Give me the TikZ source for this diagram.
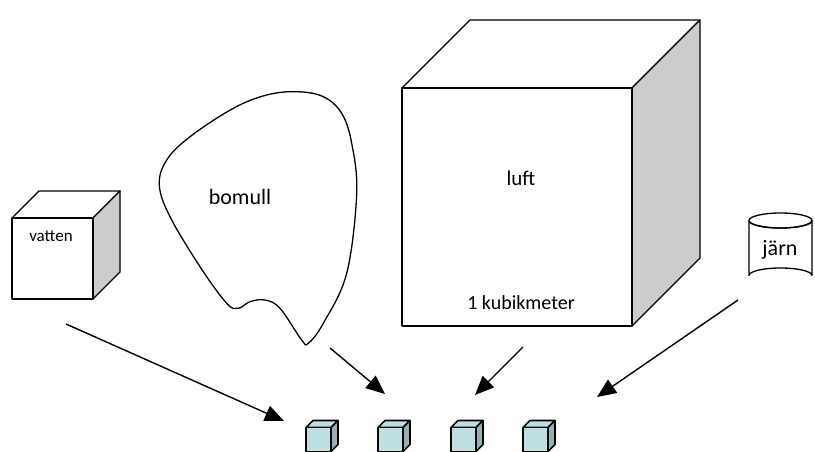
\documentclass[tikz,border=0pt]{standalone}
\usepackage{fontspec}
\setmainfont{Carlito}
\usetikzlibrary{arrows.meta}
\definecolor{sidegray}{HTML}{CCCCCC}
\definecolor{cubefront}{HTML}{BDE0E3}
\definecolor{cubeside}{HTML}{93B2B5}
\tikzset{
  outline/.style={draw=black, line width=1.3pt, line join=round},
  arrowline/.style={draw=black, line width=1.4pt, -{Triangle[length=19pt,width=16pt]}},
  label/.style={inner sep=0pt, font=\fontsize{21}{24}\selectfont},
  smallcube/.pic={
    \path[outline, line width=1.6pt, fill=cubefront] (0,0) -- (7,-7) -- (32,-7) -- (25,0) -- cycle;
    \path[outline, line width=1.6pt, fill=cubeside] (25,0) -- (32,-7) -- (32,17) -- (25,24) -- cycle;
    \path[outline, line width=1.6pt, fill=cubefront] (0,0) rectangle (25,24);
  }
}
\begin{document}
\begin{tikzpicture}[x=1pt,y=-1pt]
\useasboundingbox (0,0) rectangle (815,452);
% big cube (luft)
\path[outline, fill=white] (402,88) -- (470,20) -- (700,20) -- (632,88) -- cycle;
\path[outline, fill=sidegray] (632,88) -- (700,20) -- (700,258) -- (632,326) -- cycle;
\path[outline, fill=white] (402,88) rectangle (632,326);
\node[label] (luft) at (521,178) {luft};
\node[label, font=\fontsize{20}{24}\selectfont] (kubik) at (521,303) {1 kubikmeter};
% vatten cube
\path[outline, fill=white] (12,218) -- (39,191) -- (120,191) -- (93,218) -- cycle;
\path[outline, fill=sidegray] (93,218) -- (120,191) -- (120,272) -- (93,299) -- cycle;
\path[outline, fill=white] (12,218) rectangle (93,299);
\node[label, font=\fontsize{17}{20}\selectfont] (vatten) at (51,236) {vatten};
% bomull blob
\draw[line width=1.3pt] plot[smooth cycle, tension=0.6] coordinates {
 (296.7,91.7) (323.3,96.7) (341.7,113.3) (351.7,143.3) (356.7,193.3)
 (346.7,273.3) (323.3,323.3) (308.3,343.3) (301.7,340) (280,308.3)
 (265,300) (250,301.7) (238.3,308.3) (226.7,303.3) (200,266.7)
 (170,216.7) (159.3,185) (166.7,160) (190,136.7) (233.3,108.3) (266.7,95)};
\node[label, font=\fontsize{22}{24}\selectfont] (bomull) at (240,197) {bomull};
% jarn cylinder
\path[outline, fill=white] (749,220.5) -- (749,275.5) arc[start angle=180, end angle=360, x radius=31.5, y radius=7.5]
  -- (812,220.5) arc[start angle=0, end angle=180, x radius=31.5, y radius=7.5] -- cycle;
\draw[line width=1.3pt] (780.5,220.5) ellipse[x radius=31.5, y radius=7.5];
\node[label, font=\fontsize{22}{24}\selectfont] (jarn) at (780,250) {järn};
% small cubes
\pic (c1) at (306,427.5) {smallcube};
\pic (c2) at (378,427.5) {smallcube};
\pic (c3) at (451,427.5) {smallcube};
\pic (c4) at (523,427.5) {smallcube};
% arrows
\coordinate (a1s) at (66,324); \coordinate (a1e) at (284,421);
\coordinate (a2s) at (330,348); \coordinate (a2e) at (385,394);
\coordinate (a3s) at (523,347); \coordinate (a3e) at (475,395);
\coordinate (a4s) at (738,300); \coordinate (a4e) at (597,397);
\draw[arrowline] (a1s) -- (a1e);
\draw[arrowline] (a2s) -- (a2e);
\draw[arrowline] (a3s) -- (a3e);
\draw[arrowline] (a4s) -- (a4e);
\end{tikzpicture}
\end{document}
